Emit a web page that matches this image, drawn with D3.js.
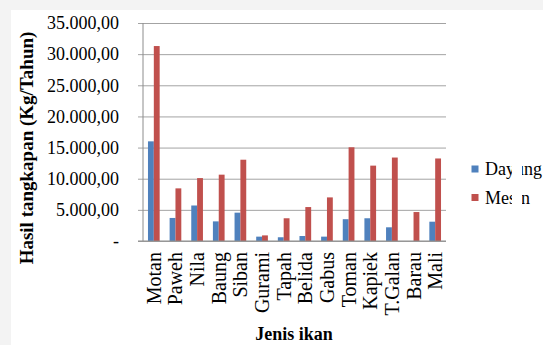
<!DOCTYPE html>
<html>
<head>
<meta charset="utf-8">
<script src="https://cdn.jsdelivr.net/npm/d3@7"></script>
<style>
  html, body { margin: 0; padding: 0; background: #f3f3f3; }
  svg { display: block; }
  svg text { font-family: 'Liberation Serif', 'Times New Roman', 'DejaVu Serif', serif !important; fill: #000; }
</style>
</head>
<body>
<svg id="chart" width="543" height="345"></svg>
<script>
// Annual catch per fish species, by boat type (kg/year)
const categories = ["Motan", "Paweh", "Nila", "Baung", "Siban", "Gurami", "Tapah",
                    "Belida", "Gabus", "Toman", "Kapiek", "T.Galan", "Barau", "Mali"];
const seriesNames = ["Dayung", "Mesin"];
const dayung = [16000, 3700, 5700, 3150, 4550, 700, 600, 800, 700, 3500, 3650, 2200, 0, 3100];
const mesin  = [31300, 8450, 10100, 10650, 13050, 900, 3650, 5450, 7000, 15050, 12100, 13400, 4650, 13250];
const yTicks = [0, 5000, 10000, 15000, 20000, 25000, 30000, 35000];
const colors = ["#4f81bd", "#c0504d"];

const serif = "'Liberation Serif', 'Times New Roman', serif";
const svg = d3.select("#chart");

// white page area inside the thin grey margin
svg.append("rect").attr("x", 11).attr("y", 10).attr("width", 532).attr("height", 335).attr("fill", "#ffffff");

const plot = { left: 143, right: 446, top: 23, bottom: 241 };

const x0 = d3.scaleBand().domain(categories).range([plot.left, plot.right]).paddingInner(0).paddingOuter(0);
const bw = x0.bandwidth();
const x1 = d3.scaleBand().domain(seriesNames).range([bw * 0.23, bw * 0.77]).padding(0);
const y = d3.scaleLinear().domain([0, 35000]).range([plot.bottom, plot.top]);

// Indonesian number format: 35.000,00
const idFmt = d3.formatLocale({ decimal: ",", thousands: ".", grouping: [3], currency: ["", ""] }).format(",.2f");
const tickLabel = v => v === 0 ? "-" : idFmt(v);

// horizontal gridlines with small outward ticks
const yAxis = d3.axisLeft(y).tickValues(yTicks).tickSize(-(plot.right - plot.left)).tickFormat(tickLabel).tickPadding(24);
const gy = svg.append("g").attr("transform", `translate(${plot.left},0)`).call(yAxis)
  .attr("font-family", serif).attr("font-size", 18);
gy.select(".domain").remove();
gy.selectAll(".tick line").attr("stroke", "#a3a3a3").attr("x1", -5);
gy.selectAll(".tick text")
  .style("font-family", serif)
  .style("font-size", "18px")
  .attr("fill", "#000");

// left axis line
svg.append("line")
  .attr("x1", plot.left).attr("x2", plot.left)
  .attr("y1", plot.top).attr("y2", plot.bottom)
  .attr("stroke", "#8c8c8c");

// bars
const groups = svg.append("g").selectAll("g")
  .data(categories)
  .join("g")
  .attr("transform", d => `translate(${x0(d)},0)`);

groups.selectAll("rect")
  .data((d, i) => [dayung[i], mesin[i]].map((v, k) => ({ key: seriesNames[k], value: v, k })))
  .join("rect")
  .attr("x", d => x1(d.key))
  .attr("width", x1.bandwidth())
  .attr("y", d => y(d.value))
  .attr("height", d => y(0) - y(d.value))
  .attr("fill", d => colors[d.k]);

// baseline
svg.append("line")
  .attr("x1", plot.left - 5).attr("x2", plot.right)
  .attr("y1", plot.bottom).attr("y2", plot.bottom)
  .attr("stroke", "#8c8c8c");

// rotated category labels
const xAxis = d3.axisBottom(x0).tickSize(0).tickPadding(0);
const gx = svg.append("g").attr("transform", `translate(0,${plot.bottom})`).call(xAxis)
  .attr("font-family", serif).attr("font-size", 20);
gx.select(".domain").remove();
gx.selectAll(".tick text")
  .style("font-family", serif)
  .style("font-size", "20px")
  .attr("fill", "#000")
  .attr("text-anchor", "end")
  .attr("dy", null)
  .attr("y", null)
  .attr("transform", "translate(7,11) rotate(-90)");

// axis titles
svg.append("text")
  .attr("transform", "translate(33,148) rotate(-90)")
  .attr("text-anchor", "middle")
  .style("font-family", serif)
  .style("font-weight", "bold")
  .style("font-size", "19px")
  .text("Hasil tangkapan (Kg/Tahun)");

svg.append("text")
  .attr("x", 294).attr("y", 340)
  .attr("text-anchor", "middle")
  .style("font-family", serif)
  .style("font-weight", "bold")
  .style("font-size", "18px")
  .text("Jenis ikan");

// legend
const legend = svg.append("g");
seriesNames.forEach((name, i) => {
  const cy = 169 + i * 28.5;
  legend.append("rect")
    .attr("x", 471.5).attr("y", cy - 3.5)
    .attr("width", 7).attr("height", 7)
    .attr("fill", colors[i]);
  legend.append("text")
    .attr("x", 485).attr("y", cy + 6)
    .style("font-family", serif)
    .style("font-size", "18px")
    .text(name);
});
// light vertical band crossing the legend column
svg.append("rect").attr("x", 512).attr("y", 156).attr("width", 10).attr("height", 56).attr("fill", "#ffffff");
</script>
</body>
</html>
